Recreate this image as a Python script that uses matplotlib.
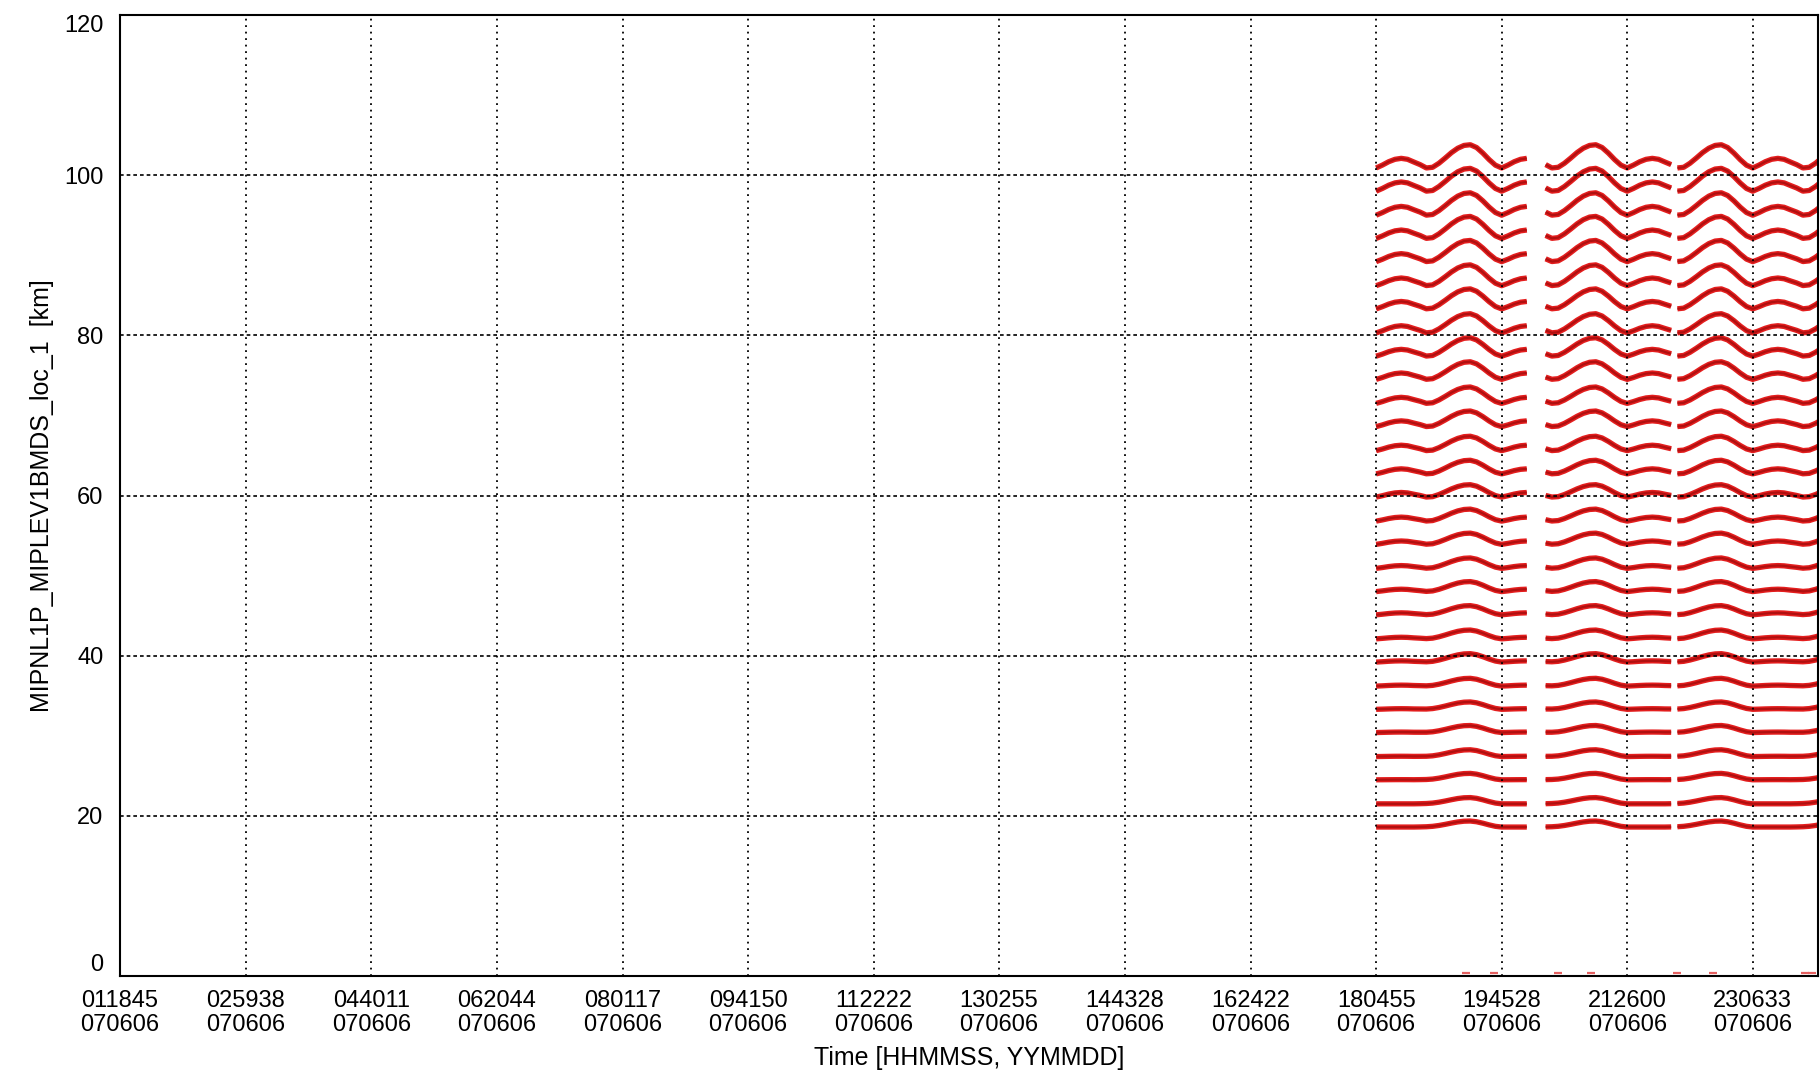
import numpy as np
import matplotlib
matplotlib.use("Agg")
import matplotlib.pyplot as plt

# ---------------- data ----------------
tick_hhmmss = ["011845", "025938", "044011", "062044", "080117", "094150", "112222",
               "130255", "144328", "162422", "180455", "194528", "212600", "230633"]
tick_yymmdd = ["070606", "070606", "070606", "070606", "070606", "070606", "070606",
               "070606", "070606", "070606", "070606", "070606", "070606", "070606"]

y_ticks = [0, 20, 40, 60, 80, 100, 120]

# tangent heights of the 29 sweeps at the start of the first orbit [km]
tangent_heights = [18.6, 21.5, 24.5, 27.4, 30.4, 33.3, 36.2, 39.2, 42.1, 45.1,
                   48.0, 50.9, 53.9, 56.8, 59.8, 62.7, 65.6, 68.6, 71.5, 74.5,
                   77.4, 80.3, 83.3, 86.2, 89.2, 92.1, 95.0, 98.0, 100.9]
# amplitude of the main hump of each sweep [km]
peak_amp = [0.75, 0.78, 0.80, 0.85, 0.88, 0.92, 0.97, 1.05, 1.10, 1.15,
            1.25, 1.30, 1.40, 1.50, 1.55, 1.70, 1.80, 1.95, 2.05, 2.20,
            2.30, 2.40, 2.50, 2.60, 2.65, 2.75, 2.80, 2.85, 2.90]
# amplitude of the small early-orbit bump of each sweep [km]
bump_amp = [0.00, 0.00, 0.02, 0.04, 0.06, 0.08, 0.12, 0.15, 0.20, 0.25,
            0.30, 0.35, 0.42, 0.50, 0.58, 0.63, 0.68, 0.72, 0.76, 0.80,
            0.85, 0.90, 0.93, 0.96, 1.00, 1.05, 1.10, 1.15, 1.20]

# orbit shape (phase 0 = orbit start at the 180455 tick)
orbit_phase = [0.00, 0.05, 0.10, 0.15, 0.20, 0.25, 0.30, 0.35, 0.40, 0.45, 0.50,
               0.55, 0.60, 0.65, 0.70, 0.75, 0.80, 0.85, 0.90, 0.95, 1.00]
peak_shape = [0.00, 0.00, 0.00, 0.00, 0.00, 0.00, 0.00, 0.02, 0.05, 0.12, 0.26,
              0.45, 0.66, 0.85, 0.97, 1.00, 0.88, 0.64, 0.36, 0.12, 0.00]
bump_shape = [0.00, 0.30, 0.65, 0.90, 1.00, 0.90, 0.62, 0.30, -0.12, -0.22, -0.14,
              -0.06, 0.00, 0.00, 0.00, 0.00, 0.00, 0.00, 0.00, 0.00, 0.00]

# data segments, in orbits after the first orbit start
segment_phase_start = [0.00, 1.35, 2.40]
segment_phase_end = [1.20, 2.35, 3.55]
orbit_start_hhmmss = "180455"
orbit_period_s = 6033

# scattered samples with altitude ~0 km (times in seconds of day)
zero_alt_times = [69394, 70739, 73813, 75398, 79577, 81306, 85725, 86061]

x_min_s = 4725
x_max_s = 86330


def hhmmss_to_s(s):
    return int(s[0:2]) * 3600 + int(s[2:4]) * 60 + int(s[4:6])


# ---------------- figure ----------------
fig = plt.figure(figsize=(18.2, 10.86), dpi=100)
ax = fig.add_axes([120 / 1820, 1 - 976 / 1086, (1818 - 120) / 1820, (976 - 15) / 1086])

tick_s = [hhmmss_to_s(t) for t in tick_hhmmss]
t0 = hhmmss_to_s(orbit_start_hhmmss)
step = orbit_phase[1] - orbit_phase[0]

line_col_outer = "#e41e1e"
line_col_inner = "#b01010"
for h, pa, ba in zip(tangent_heights, peak_amp, bump_amp):
    for ps, pe in zip(segment_phase_start, segment_phase_end):
        n = int(round((pe - ps) / step))
        ph = ps + step * np.arange(n + 1)
        idx = np.rint((ph % 1.0) / step).astype(int)
        pk = np.array(peak_shape)[idx]
        bp = np.array(bump_shape)[idx]
        y = h + pa * pk + ba * bp
        t = t0 + ph * orbit_period_s
        ax.plot(t, y, color=line_col_outer, lw=3.8, solid_capstyle="butt", zorder=2)
        ax.plot(t, y, color=line_col_inner, lw=1.6, solid_capstyle="butt", zorder=2.1)

ax.plot(zero_alt_times, [0.4] * len(zero_alt_times), linestyle="none", marker="_",
        markersize=6, mew=1.6, color="#e46060", zorder=2, clip_on=False)

# grid
for ts in tick_s[1:]:
    ax.axvline(ts, color="black", lw=1.3, linestyle=(0, (1, 2.6)), zorder=3)
for yv in y_ticks[1:-1]:
    ax.axhline(yv, color="black", lw=1.2, linestyle=(0, (2.2, 1.8)), zorder=3)

ax.set_xlim(x_min_s, x_max_s)
ax.set_ylim(0, 120)

font = ["Liberation Sans Narrow", "Liberation Sans", "DejaVu Sans"]
ax.set_xticks(tick_s)
ax.set_xticklabels([a + "\n" + b for a, b in zip(tick_hhmmss, tick_yymmdd)],
                   fontsize=17, family=font, linespacing=1.12)
ax.set_yticks(y_ticks)
ylabels = ax.set_yticklabels([str(v) for v in y_ticks], fontsize=17, family=font)
ylabels[0].set_verticalalignment("bottom")
ylabels[-1].set_verticalalignment("top")
ax.tick_params(axis="both", length=0, colors="black")
ax.tick_params(axis="x", pad=10)
ax.tick_params(axis="y", pad=12)

ax.set_xlabel("Time [HHMMSS, YYMMDD]", fontsize=18, family=font, labelpad=7)
ax.set_ylabel("MIPNL1P_MIPLEV1BMDS_loc_1  [km]", fontsize=18, family=font, labelpad=7)

for sp in ax.spines.values():
    sp.set_linewidth(1.5)
    sp.set_color("black")
    sp.set_zorder(4)

fig.savefig("out.png", dpi=100)
